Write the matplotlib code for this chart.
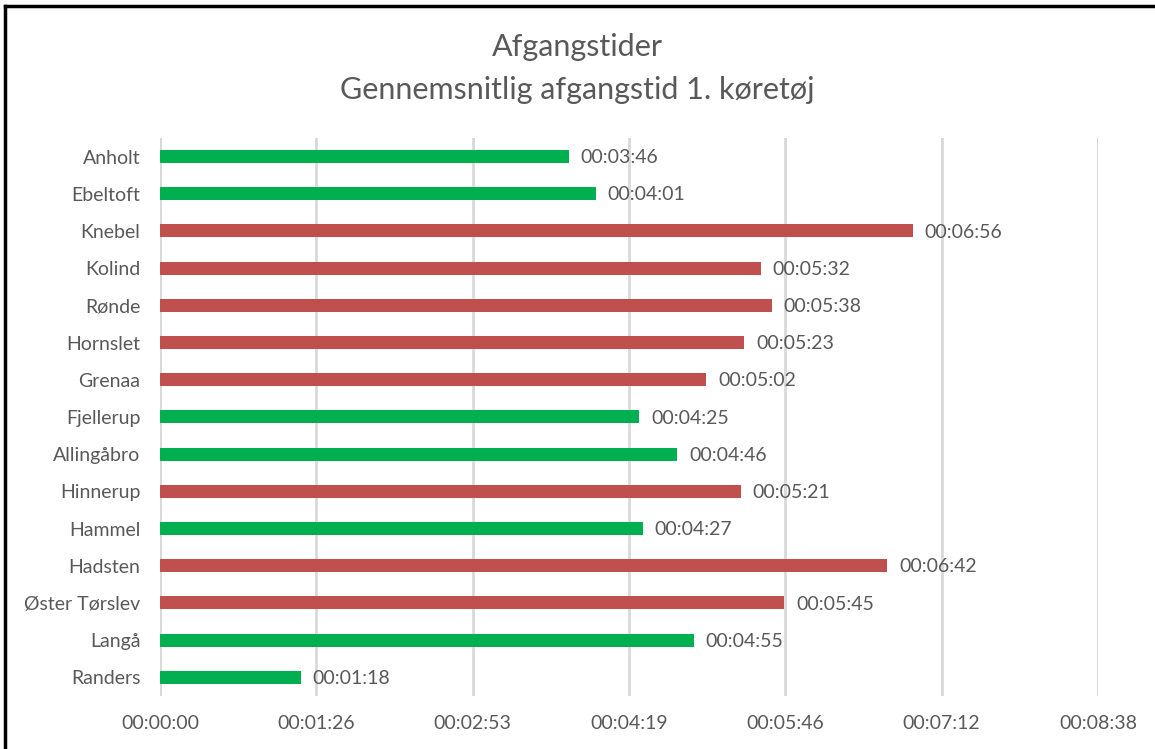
import matplotlib.pyplot as plt
from matplotlib.lines import Line2D

# Data: seconds for the first vehicle's average departure time
stations = ["Anholt", "Ebeltoft", "Knebel", "Kolind", "Rønde", "Hornslet",
            "Grenaa", "Fjellerup", "Allingåbro", "Hinnerup", "Hammel",
            "Hadsten", "Øster Tørslev", "Langå", "Randers"]
seconds = [226, 241, 416, 332, 338, 323, 302, 265, 286, 321, 267, 402, 345, 295, 78]
status = ["ok", "ok", "late", "late", "late", "late", "late", "ok", "ok",
          "late", "ok", "late", "late", "ok", "ok"]
tick_seconds = [0, 86.4, 172.8, 259.2, 345.6, 432.0, 518.4]

colour_map = {"ok": "#00B050", "late": "#C0504D"}
text_col = "#595959"
plt.rcParams['font.family'] = ['Lato', 'DejaVu Sans']


def hms(s):
    s = int(round(s))
    return "{:02d}:{:02d}:{:02d}".format(s // 3600, (s % 3600) // 60, s % 60)


fig = plt.figure(figsize=(11.55, 7.49), dpi=100)
ax = fig.add_axes([0.1385, 0.0708, 0.8121, 0.745])

ypos = list(range(len(stations)))[::-1]
bar_colors = [colour_map[s] for s in status]
ax.barh(ypos, seconds, height=0.35, color=bar_colors, zorder=3)

for y, v in zip(ypos, seconds):
    ax.text(v + 6.5, y - 0.03, hms(v), va='center', ha='left', fontsize=14,
            color=text_col, zorder=4)

ax.set_xlim(0, 518.4)
ax.set_ylim(-0.5, len(stations) - 0.5)
ax.set_xticks(tick_seconds)
ax.set_xticklabels([hms(t) for t in tick_seconds])
ax.set_yticks(ypos)
ax.set_yticklabels(stations)
ax.tick_params(axis='both', length=0, labelsize=14, labelcolor=text_col)
ax.tick_params(axis='x', pad=14)
ax.tick_params(axis='y', pad=14)
ax.xaxis.grid(True, color='#D9D9D9', linewidth=2, zorder=0)
ax.set_axisbelow(True)
for sp in ax.spines.values():
    sp.set_visible(False)
ax.axvline(0, color='#D9D9D9', linewidth=2, zorder=1)
ax.axvline(518.4, color='#D9D9D9', linewidth=2, zorder=1)

fig.text(0.5, 1 - 47 / 749, "Afgangstider", ha='center', va='center',
         fontsize=22, color=text_col)
fig.text(0.5, 1 - 90 / 749, "Gennemsnitlig afgangstid 1. køretøj",
         ha='center', va='center', fontsize=22, color=text_col)

# border (left and top visible in the reference)
fig.add_artist(Line2D([5 / 1155, 5 / 1155], [0, 1 - 6 / 749], color='black',
                      linewidth=2.5, transform=fig.transFigure))
fig.add_artist(Line2D([5 / 1155, 1], [1 - 6 / 749, 1 - 6 / 749], color='black',
                      linewidth=2.5, transform=fig.transFigure))

fig.savefig("out.png", dpi=100)
